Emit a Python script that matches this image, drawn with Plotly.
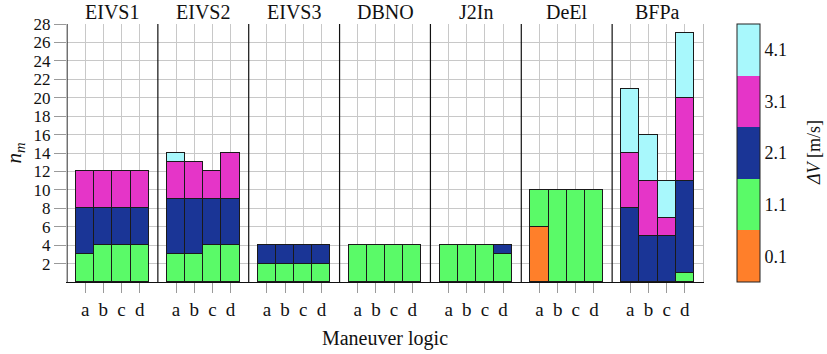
import plotly.graph_objects as go

# Maneuver-logic groups and the four logic variants in each
groups = ["EIVS1", "EIVS2", "EIVS3", "DBNO", "J2In", "DeEl", "BFPa"]
variants = ["a", "b", "c", "d"]

# Delta-V classes (m/s) and their colours
dv_levels = [0.1, 1.1, 2.1, 3.1, 4.1]
dv_colors = ["#ff7f2a", "#5afa68", "#1a3596", "#e535c8", "#a8f8fc"]

# Number of maneuvers n_m per Delta-V class, one list per group (a, b, c, d)
counts_0p1 = {
    "EIVS1": [0, 0, 0, 0], "EIVS2": [0, 0, 0, 0], "EIVS3": [0, 0, 0, 0],
    "DBNO": [0, 0, 0, 0], "J2In": [0, 0, 0, 0], "DeEl": [6, 0, 0, 0],
    "BFPa": [0, 0, 0, 0],
}
counts_1p1 = {
    "EIVS1": [3, 4, 4, 4], "EIVS2": [3, 3, 4, 4], "EIVS3": [2, 2, 2, 2],
    "DBNO": [4, 4, 4, 4], "J2In": [4, 4, 4, 3], "DeEl": [4, 10, 10, 10],
    "BFPa": [0, 0, 0, 1],
}
counts_2p1 = {
    "EIVS1": [5, 4, 4, 4], "EIVS2": [6, 6, 5, 5], "EIVS3": [2, 2, 2, 2],
    "DBNO": [0, 0, 0, 0], "J2In": [0, 0, 0, 1], "DeEl": [0, 0, 0, 0],
    "BFPa": [8, 5, 5, 10],
}
counts_3p1 = {
    "EIVS1": [4, 4, 4, 4], "EIVS2": [4, 4, 3, 5], "EIVS3": [0, 0, 0, 0],
    "DBNO": [0, 0, 0, 0], "J2In": [0, 0, 0, 0], "DeEl": [0, 0, 0, 0],
    "BFPa": [6, 6, 2, 9],
}
counts_4p1 = {
    "EIVS1": [0, 0, 0, 0], "EIVS2": [1, 0, 0, 0], "EIVS3": [0, 0, 0, 0],
    "DBNO": [0, 0, 0, 0], "J2In": [0, 0, 0, 0], "DeEl": [0, 0, 0, 0],
    "BFPa": [7, 5, 4, 7],
}
class_counts = [counts_0p1, counts_1p1, counts_2p1, counts_3p1, counts_4p1]

y_ticks = list(range(2, 29, 2))

SLOT = 5  # each group occupies 5 x-units: bars at 1..4
FONT = "Liberation Serif"
INK = "#111111"
W, H = 827, 354
ML, MR, MT, MB = 67, 124, 24, 72
PLOT_W = W - ML - MR


def px_to_paper_x(px):
    return (px - ML) / PLOT_W


x_pos = []
x_lab = []
for gi, g in enumerate(groups):
    for vi, v in enumerate(variants):
        x_pos.append(gi * SLOT + vi + 1)
        x_lab.append(v)

fig = go.Figure()

for lvl, col, counts in zip(dv_levels, dv_colors, class_counts):
    ys = [counts[g][vi] for g in groups for vi in range(len(variants))]
    fig.add_trace(go.Bar(
        x=x_pos, y=ys, width=1.0,
        marker=dict(color=col, line=dict(color="#1a1a1a", width=1.2)),
        name=f"{lvl}", showlegend=False,
        hovertemplate="n_m=%{y}<extra>ΔV=" + f"{lvl}" + "</extra>",
    ))

# Discrete Delta-V colour bar (bands of width 1 centred on each class)
cmin = dv_levels[0] - 0.5
cmax = dv_levels[-1] + 0.5
cscale = []
n = len(dv_colors)
for i, c in enumerate(dv_colors):
    cscale.append([i / n, c])
    cscale.append([(i + 1) / n, c])
fig.add_trace(go.Scatter(
    x=[None, None], y=[None, None], mode="markers", showlegend=False,
    hoverinfo="skip",
    marker=dict(
        color=[cmin, cmax], cmin=cmin, cmax=cmax, cauto=False,
        colorscale=cscale, showscale=True,
        colorbar=dict(
            x=px_to_paper_x(737), xref="paper", xanchor="left",
            xpad=0, ypad=0,
            y=0, yref="paper", yanchor="bottom",
            len=1, lenmode="fraction",
            thickness=23, thicknessmode="pixels",
            outlinecolor="#222222", outlinewidth=1,
            tickvals=dv_levels, ticktext=[f"{v}" for v in dv_levels],
            ticks="",
            tickfont=dict(family=FONT, size=18, color=INK),
        ),
    ),
))

# Colour-bar title, rotated
fig.add_annotation(x=px_to_paper_x(814), y=0.5, xref="paper", yref="paper",
                   text="<i>ΔV</i> [m/s]", textangle=-90, showarrow=False,
                   xanchor="center", yanchor="middle",
                   font=dict(family=FONT, size=18, color=INK))

# Separators between groups
for gi in range(1, len(groups)):
    fig.add_shape(type="line", x0=gi * SLOT, x1=gi * SLOT, y0=0, y1=28,
                  xref="x", yref="y", line=dict(color=INK, width=1.2),
                  layer="above")
# Left axis line in black
fig.add_shape(type="line", x0=0, x1=0, y0=0, y1=28, xref="x", yref="y",
              line=dict(color=INK, width=1.2), layer="above")

# Group titles
for gi, g in enumerate(groups):
    fig.add_annotation(x=gi * SLOT + SLOT / 2, y=1.0, xref="x", yref="paper",
                       yanchor="bottom", yshift=-1, showarrow=False, text=g,
                       font=dict(family=FONT, size=20, color=INK))

fig.update_layout(
    width=W, height=H,
    margin=dict(l=ML, r=MR, t=MT, b=MB, autoexpand=False),
    barmode="stack", bargap=0,
    plot_bgcolor="white", paper_bgcolor="white",
    font=dict(family=FONT, size=18, color=INK),
    xaxis=dict(
        range=[0, len(groups) * SLOT], tickvals=x_pos, ticktext=x_lab,
        showgrid=True, gridcolor="#c8c8c8", gridwidth=1,
        ticks="outside", ticklen=10, tickcolor="#9a9a9a", tickwidth=1,
        tickfont=dict(family=FONT, size=19, color=INK), zeroline=False,
        showline=True, linecolor=INK, linewidth=1.2, automargin=False,
        title=dict(text="Maneuver logic",
                   font=dict(family=FONT, size=20, color=INK), standoff=12),
    ),
    yaxis=dict(
        range=[0, 28], tickvals=y_ticks, showgrid=True, gridcolor="#c8c8c8",
        gridwidth=1, ticks="outside", ticklen=12, tickcolor="#9a9a9a",
        tickfont=dict(family=FONT, size=17, color=INK), zeroline=False,
        showline=True, linecolor="#bdbdbd", linewidth=1, mirror=True,
        automargin=False,
        title=dict(text="<i>n</i><sub><i>m</i></sub>",
                   font=dict(family=FONT, size=21, color=INK), standoff=6),
    ),
)

fig.write_html("out.html")
